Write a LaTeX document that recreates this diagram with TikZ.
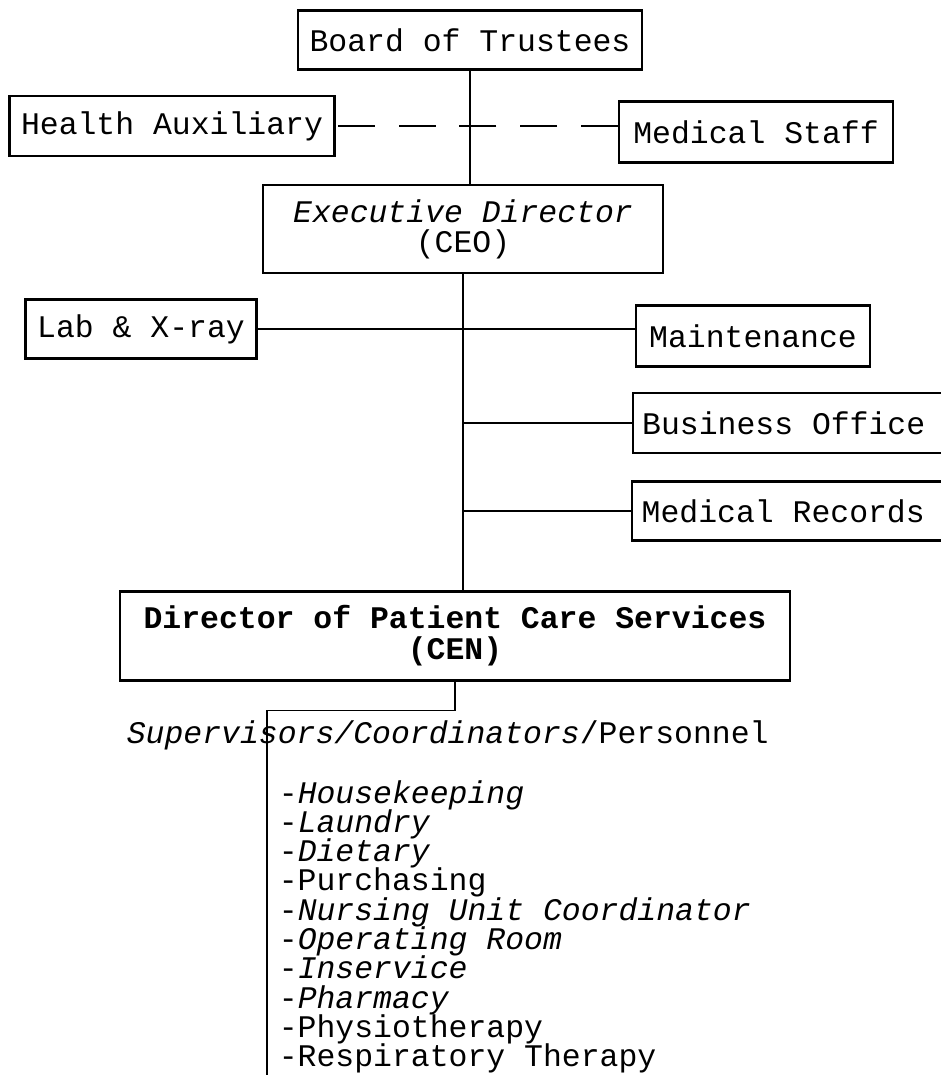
\documentclass[tikz,border=0pt]{standalone}
\usepackage{fontspec}
\setmainfont{Liberation Mono}
\usepackage{tikz}

\begin{document}
\begin{tikzpicture}[x=0.02cm,y=-0.02cm,line width=1pt,
  box/.style={draw,line width=1.2pt,inner sep=0pt,align=center,font=\fontsize{17.9}{17}\selectfont},
  item/.style={anchor=base west,inner sep=0pt,font=\fontsize{17.9}{16}\selectfont},
  dashline/.style={dash pattern=on 21pt off 13.6pt}]
\clip (0,0) rectangle (941,1080);
\node[box,minimum width=6.88cm,minimum height=1.18cm] (board) at (470,40) {Board of Trustees};
\node[box,minimum width=6.5cm,minimum height=1.2cm] (aux) at (172,126) {Health Auxiliary};
\node[box,minimum width=5.48cm,minimum height=1.22cm] (staff) at (756,132) {Medical Staff};
\node[box,minimum width=8cm,minimum height=1.76cm] (exec) at (463,229) {{\itshape Executive Director}\\(CEO)};
\node[box,minimum width=4.62cm,minimum height=1.18cm] (lab) at (141,329) {Lab \& X-ray};
\node[box,minimum width=4.68cm,minimum height=1.22cm] (maint) at (753,336) {Maintenance};
\node[box,minimum width=6.28cm,minimum height=1.2cm] (office) at (948,423) [anchor=east] {Business Office\hspace{0.25cm}};
\node[box,minimum width=6.3cm,minimum height=1.18cm] (records) at (948,511) [anchor=east] {Medical Records\hspace{0.25cm}};
\node[box,minimum width=13.4cm,minimum height=1.78cm,font=\fontsize{17.9}{17.6}\selectfont\bfseries] (pcs) at (455,636) {Director of Patient Care Services\\(CEN)};
\coordinate (listend) at (267,1075);
\draw (board.south) -- (board.south |- exec.north);
\draw[dashline] (aux.east -| staff.west) -- (aux.east);
\draw (exec.south) -- (exec.south |- pcs.north);
\draw (lab.east) -- (lab.east -| maint.west);
\draw (exec.south |- office.west) -- (office.west);
\draw (exec.south |- records.west) -- (records.west);
\draw (pcs.south) -- ++(0,29) -| (listend);
\node[item] (sup) at (126,743) {{\itshape Supervisors/Coordinators}/Personnel};
\node[item] (hk) at (278,803) {-{\itshape Housekeeping}};
\node[item] (laundry) at (278,832.3) {-{\itshape Laundry}};
\node[item] (dietary) at (278,861.6) {-{\itshape Dietary}};
\node[item] (purch) at (278,890.9) {-Purchasing};
\node[item] (nuc) at (278,920.2) {-{\itshape Nursing Unit Coordinator}};
\node[item] (oroom) at (278,949.5) {-{\itshape Operating Room}};
\node[item] (insvc) at (278,978.8) {-{\itshape Inservice}};
\node[item] (pharm) at (278,1008.1) {-{\itshape Pharmacy}};
\node[item] (physio) at (278,1037.4) {-Physiotherapy};
\node[item] (resp) at (278,1066.7) {-Respiratory Therapy};
\end{tikzpicture}
\end{document}
